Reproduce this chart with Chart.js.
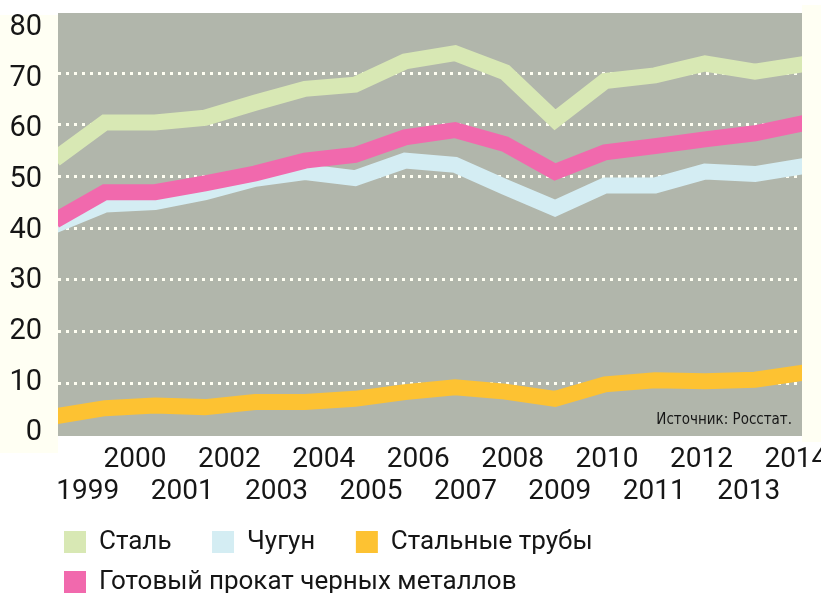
<!DOCTYPE html>
<html><head><meta charset="utf-8">
<script src="https://cdn.jsdelivr.net/npm/chart.js@4.4.1/dist/chart.umd.min.js"></script>
<style>html,body{margin:0;padding:0;background:#fff;}canvas{display:block;}</style>
</head><body>
<canvas id="c" width="821" height="593"></canvas>
<script>
// ---- data ----
const years = ['1999','2000','2001','2002','2003','2004','2005','2006','2007','2008','2009','2010','2011','2012','2013','2014'];
const seriesNames = ['Сталь', 'Чугун', 'Стальные трубы', 'Готовый прокат черных металлов'];
const steel  = [53.4, 60.5, 60.5, 61.4, 64.3, 67.0, 67.8, 72.3, 73.9, 70.2, 61.0, 68.5, 69.6, 71.9, 70.3, 71.8];
const pigIron = [40.6, 44.6, 45.1, 47.0, 49.6, 50.9, 49.7, 53.1, 52.3, 48.0, 43.9, 48.3, 48.3, 51.0, 50.5, 52.1];
const pipes  = [3.6, 5.2, 5.7, 5.4, 6.4, 6.4, 7.0, 8.3, 9.25, 8.4, 7.0, 9.8, 10.6, 10.4, 10.7, 12.1];
const rolled = [41.5, 47.0, 47.0, 48.7, 50.6, 53.1, 54.2, 57.6, 59.0, 56.3, 50.9, 54.7, 55.9, 57.2, 58.4, 60.4];
const yTickLabels = ['0','10','20','30','40','50','60','70','80'];
const sourceNote = 'Источник: Росстат.';

// ---- styling ----
const FONT = "Roboto,'Noto Sans',sans-serif";
const NOTE_FONT = "'DejaVu Sans Condensed','Liberation Sans Narrow',Roboto,sans-serif";
const colors = ['#d8e8b4', '#d4edf3', '#fdc232', '#f169ad'];
const TEXT = '#161616';

const toPoints = arr => arr.map((v, i) => ({x: i, y: v}));

const bgPlugin = {
  id: 'bgPanels',
  beforeDraw(chart) {
    const {ctx, chartArea: a, width} = chart;
    // legend rows start a little right of the canvas edge
    if (chart.legend) { chart.legend.left = 50; }
    ctx.save();
    ctx.fillStyle = '#fffff3';
    ctx.fillRect(0, a.top + 2, a.left, a.bottom - a.top + 15);
    ctx.fillRect(a.right, a.top - 8, width - a.right, a.bottom - a.top + 14);
    ctx.fillStyle = '#b1b6ab';
    ctx.fillRect(a.left, a.top, a.right - a.left, a.bottom - a.top);
    ctx.restore();
  },
  afterDatasetsDraw(chart) {
    const {ctx, chartArea: a} = chart;
    ctx.save();
    ctx.font = '15px ' + NOTE_FONT;
    ctx.fillStyle = TEXT;
    ctx.textAlign = 'right';
    ctx.textBaseline = 'middle';
    ctx.fillText(sourceNote, a.right - 10, a.bottom - 16);
    ctx.restore();
  }
};

const mk = (label, arr, color, order) => ({
  label, data: toPoints(arr), borderColor: color, backgroundColor: color,
  borderWidth: 16, pointRadius: 0, tension: 0, borderJoinStyle: 'miter',
  borderCapStyle: 'butt', clip: 0, order, xAxisID: 'x', yAxisID: 'y'
});

new Chart(document.getElementById('c'), {
  type: 'line',
  data: {
    datasets: [
      mk(seriesNames[0], steel, colors[0], 1),
      mk(seriesNames[1], pigIron, colors[1], 2),
      mk(seriesNames[2], pipes, colors[2], 3),
      mk(seriesNames[3], rolled, colors[3], 0)
    ]
  },
  options: {
    responsive: false,
    animation: false,
    devicePixelRatio: 1,
    layout: {padding: {top: 13, right: 19, left: 0, bottom: -12}},
    plugins: {
      tooltip: {enabled: false},
      legend: {
        position: 'bottom',
        align: 'start',
        labels: {
          boxWidth: 22, boxHeight: 22, padding: 14, color: TEXT,
          font: {size: 26, family: FONT},
          sort: (a, b) => a.datasetIndex - b.datasetIndex,
          generateLabels: chart => chart.data.datasets.map((d, i) => ({
            text: d.label + '\u2003', fillStyle: d.borderColor, strokeStyle: d.borderColor,
            lineWidth: 0, hidden: false, datasetIndex: i, fontColor: TEXT
          }))
        }
      }
    },
    scales: {
      x: {
        type: 'linear', display: false, min: 0.06, max: 14.94
      },
      xl: {
        type: 'linear', position: 'bottom', min: 1998.37, max: 2014.13,
        grid: {display: false, drawTicks: false}, border: {display: false},
        afterBuildTicks: s => { s.ticks = years.map(y => ({value: +y})); },
        afterFit: s => { s.height = 79; s.paddingLeft = 0; s.paddingRight = 0; },
        ticks: {
          autoSkip: false, maxRotation: 0, minRotation: 0, padding: 8, color: TEXT,
          font: {size: 28, family: FONT, lineHeight: 32 / 28},
          callback: v => (v % 2 === 0 ? String(v) : ['', String(v)])
        }
      },
      y: {
        type: 'linear', position: 'left', min: -0.19, max: 81.67,
        afterFit: s => { s.width = 0; s.paddingTop = 0; s.paddingBottom = 0; },
        ticks: {display: false, stepSize: 10, includeBounds: false},
        grid: {
          drawTicks: false, lineWidth: 3,
          color: c => (c.tick && (c.tick.value === 0 || c.tick.value === 80)) ? 'rgba(0,0,0,0)' : '#fffff2'
        },
        border: {display: false, dash: [3, 5]}
      },
      yl: {
        type: 'linear', position: 'left', min: -0.59, max: 82.96,
        afterBuildTicks: s => { s.ticks = yTickLabels.map(t => ({value: +t})); },
        afterFit: s => { s.width = 58; s.paddingTop = 0; s.paddingBottom = 0; },
        grid: {display: false, drawTicks: false}, border: {display: false},
        ticks: {padding: 16, color: TEXT, font: {size: 29, family: FONT}}
      }
    }
  },
  plugins: [bgPlugin]
});
</script>
</body></html>
